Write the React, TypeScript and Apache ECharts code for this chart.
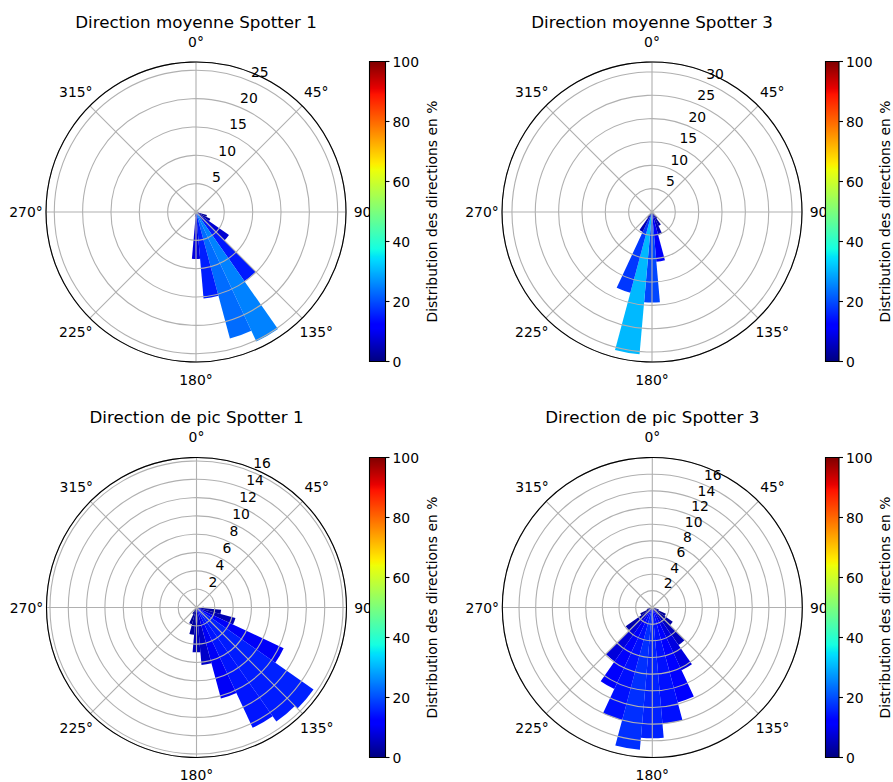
import React, { useEffect, useRef } from "react";
import * as echarts from "echarts";

// ---------- data ----------
const panelTitles = [
  "Direction moyenne Spotter 1",
  "Direction moyenne Spotter 3",
  "Direction de pic Spotter 1",
  "Direction de pic Spotter 3",
];

// direction bin centres (degrees, clockwise from north) and share of observations (%)
const moyS1Dirs = [100, 110, 120, 130, 140, 150, 160, 170, 180, 190];
const moyS1Pct = [0.5, 2.0, 2.8, 7.1, 14.9, 25.2, 23.1, 15.3, 8.3, 0.8];

const moyS3Dirs = [130, 140, 150, 160, 170, 180, 190, 200, 210, 220];
const moyS3Pct = [0.6, 1.7, 3.3, 5.1, 10.7, 19.4, 30.6, 17.9, 4.7, 1.5];

const picS1Dirs = [90, 100, 110, 120, 130, 140, 150, 160, 170, 180, 190, 200, 210];
const picS1Pct = [0.8, 2.7, 4.4, 10.5, 15.6, 15.2, 14.5, 10.3, 6.3, 4.9, 3.0, 1.9, 0.8];

const picS3Dirs = [110, 120, 130, 140, 150, 160, 170, 180, 190, 200, 210, 220, 230, 240, 250];
const picS3Pct = [0.8, 1.8, 3.0, 5.5, 8.3, 11.8, 14.0, 15.7, 17.15, 14.0, 10.8, 7.9, 3.9, 1.6, 0.7];

const radialTicksMoyS1 = [5, 10, 15, 20, 25];
const radialTicksMoyS3 = [5, 10, 15, 20, 25, 30];
const radialTicksPic = [2, 4, 6, 8, 10, 12, 14, 16];
const radialIntervals = [5, 5, 2, 2];

const angleTicks = [0, 45, 90, 135, 180, 225, 270, 315];
const binWidth = 10;

const colorbarMin = 0;
const colorbarMax = 100;
const colorbarStep = 20;
const colorbarLabel = "Distribution des directions en %";

// ---------- layout ----------
const FONT = "DejaVu Sans";
const panelCenters: [number, number][] = [
  [196, 212],
  [652, 212],
  [196.5, 607.5],
  [652.3, 607.5],
];
const panelRadius = 150;
const titleY = [21.5, 21.5, 417, 417];
const colorbarBoxes = [
  { left: 369.5, top: 61.5 },
  { left: 825.5, top: 61.5 },
  { left: 369.5, top: 457.5 },
  { left: 825.5, top: 457.5 },
];
const angleLabelGap = (a: number) => (a === 180 ? 17.5 : a === 0 ? 20.5 : 20);

// matplotlib "jet" colormap definition
function interp(t: number, pts: number[][]) {
  for (let i = 1; i < pts.length; i++) {
    if (t <= pts[i][0]) {
      const [x0, y0] = pts[i - 1];
      const [x1, y1] = pts[i];
      return y0 + ((t - x0) / (x1 - x0)) * (y1 - y0);
    }
  }
  return pts[pts.length - 1][1];
}
function jet(t: number) {
  const r = interp(t, [[0, 0], [0.35, 0], [0.66, 1], [0.89, 1], [1, 0.5]]);
  const g = interp(t, [[0, 0], [0.125, 0], [0.375, 1], [0.64, 1], [0.91, 0], [1, 0]]);
  const b = interp(t, [[0, 0.5], [0.11, 1], [0.34, 1], [0.65, 0], [1, 0]]);
  const h = (v: number) => Math.round(Math.max(0, Math.min(1, v)) * 255);
  return `rgb(${h(r)},${h(g)},${h(b)})`;
}
const jetSamples: string[] = [];
for (let i = 0; i <= 200; i++) jetSamples.push(jet(i / 200));

export default function App() {
  const ref = useRef<HTMLDivElement>(null);

  useEffect(() => {
    if (!ref.current) return;
    const chart = echarts.init(ref.current, null, { renderer: "svg" });

    const panels = [
      { dirs: moyS1Dirs, pct: moyS1Pct, ticks: radialTicksMoyS1 },
      { dirs: moyS3Dirs, pct: moyS3Pct, ticks: radialTicksMoyS3 },
      { dirs: picS1Dirs, pct: picS1Pct, ticks: radialTicksPic },
      { dirs: picS3Dirs, pct: picS3Pct, ticks: radialTicksPic },
    ];

    const polar: any[] = [];
    const angleAxis: any[] = [];
    const radiusAxis: any[] = [];
    const series: any[] = [];
    const barSeriesIdx: number[] = [];

    const renderSector = (params: any, api: any) => {
      const cs = params.coordSys;
      const r = api.value(0);
      const th = api.value(1);
      const p0 = api.coord([r, th - binWidth / 2]);
      const p1 = api.coord([r, th + binWidth / 2]);
      const rad = Math.hypot(p0[0] - cs.cx, p0[1] - cs.cy);
      const a0 = Math.atan2(p0[1] - cs.cy, p0[0] - cs.cx);
      let a1 = Math.atan2(p1[1] - cs.cy, p1[0] - cs.cx);
      if (a1 < a0) a1 += Math.PI * 2;
      return {
        type: "sector",
        shape: { cx: cs.cx, cy: cs.cy, r0: 0, r: rad, startAngle: a0, endAngle: a1, clockwise: true },
        style: { fill: api.visual("color") },
      };
    };

    const labelSeriesBase = {
      type: "scatter",
      coordinateSystem: "polar",
      silent: true,
      clip: false,
      symbolSize: 0,
      itemStyle: { opacity: 1, color: "#000" },
    };

    panels.forEach((p, i) => {
      const rmax = Math.max(...p.pct) * 1.05;
      polar.push({ center: panelCenters[i], radius: panelRadius });
      angleAxis.push({
        polarIndex: i,
        type: "value",
        min: 0,
        max: 360,
        interval: 45,
        startAngle: 90,
        clockwise: true,
        z: 4,
        axisLine: { show: true, lineStyle: { color: "#000", width: 1.1 } },
        axisTick: { show: false },
        axisLabel: { show: false },
        splitLine: { show: true, lineStyle: { color: "#b0b0b0", width: 1.1 } },
      });
      radiusAxis.push({
        polarIndex: i,
        type: "value",
        min: 0,
        max: rmax,
        interval: radialIntervals[i],
        z: 3,
        axisLine: { show: false },
        axisTick: { show: false },
        axisLabel: { show: false },
        splitLine: { show: true, lineStyle: { color: "#b0b0b0", width: 1.1 } },
      });

      barSeriesIdx.push(series.length);
      series.push({
        type: "custom",
        coordinateSystem: "polar",
        polarIndex: i,
        z: 1,
        silent: true,
        renderItem: renderSector,
        data: p.pct.map((v, k) => [v, p.dirs[k]]),
      });
      // radial tick labels (at 22.5°), drawn above the grid
      series.push({
        ...labelSeriesBase,
        polarIndex: i,
        z: 8,
        data: p.ticks.map((t) => [t, 22.5]),
        label: {
          show: true,
          position: "inside",
          offset: [9.5, -9],
          formatter: (d: any) => String(d.value[0]),
          color: "#000",
          opacity: 1,
          textBorderWidth: 0,
          fontSize: 13.9,
          fontFamily: FONT,
        },
      });
      // angle labels
      series.push({
        ...labelSeriesBase,
        polarIndex: i,
        z: 2,
        data: angleTicks.map((a) => [rmax * ((panelRadius + angleLabelGap(a)) / panelRadius), a]),
        label: {
          show: true,
          position: "inside",
          formatter: (d: any) => `${d.value[1]}°`,
          color: "#000",
          opacity: 1,
          textBorderWidth: 0,
          fontSize: 13.9,
          fontFamily: FONT,
        },
      });
    });

    // colorbars
    const grid: any[] = [];
    const xAxis: any[] = [];
    const yAxis: any[] = [];
    const stops = jetSamples.map((c, k) => ({ offset: k / (jetSamples.length - 1), color: c }));
    colorbarBoxes.forEach((b, i) => {
      grid.push({
        left: b.left,
        top: b.top,
        width: 16,
        height: 300,
        show: true,
        borderColor: "#000",
        borderWidth: 1.1,
        backgroundColor: "transparent",
        z: 6,
      });
      xAxis.push({ gridIndex: i, type: "category", data: ["jet"], show: false });
      yAxis.push({
        gridIndex: i,
        type: "value",
        position: "right",
        min: colorbarMin,
        max: colorbarMax,
        interval: colorbarStep,
        axisLine: { show: false },
        axisTick: { show: true, length: 4, lineStyle: { color: "#000", width: 1.1 } },
        axisLabel: { margin: 7, color: "#000", fontSize: 13.9, fontFamily: FONT },
        splitLine: { show: false },
        name: colorbarLabel,
        nameLocation: "middle",
        nameRotate: 90,
        nameGap: 39,
        nameTextStyle: { color: "#000", fontSize: 13.9, fontFamily: FONT },
        z: 7,
      });
      series.push({
        type: "bar",
        xAxisIndex: i,
        yAxisIndex: i,
        silent: true,
        z: 5,
        barWidth: "100%",
        data: [colorbarMax],
        itemStyle: { color: new echarts.graphic.LinearGradient(0, 1, 0, 0, stops) },
      });
    });

    chart.setOption({
      animation: false,
      textStyle: { fontFamily: FONT },
      polar,
      angleAxis,
      radiusAxis,
      grid,
      xAxis,
      yAxis,
      visualMap: {
        show: false,
        type: "continuous",
        min: colorbarMin,
        max: colorbarMax,
        dimension: 0,
        seriesIndex: barSeriesIdx,
        inRange: { color: jetSamples },
      },
      graphic: panelTitles.map((t, i) => ({
        type: "text",
        x: panelCenters[i][0],
        y: titleY[i],
        style: {
          text: t,
          fill: "#000",
          font: `16.7px "${FONT}"`,
          textAlign: "center",
          textVerticalAlign: "middle",
        },
      })),
      series,
    });

    return () => chart.dispose();
  }, []);

  return (
    <div
      ref={ref}
      style={{ position: "fixed", left: 0, top: 0, width: 893, height: 782, background: "#fff" }}
    />
  );
}
